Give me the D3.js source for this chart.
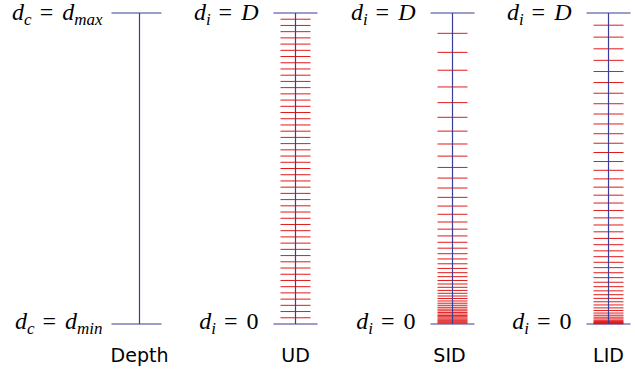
<!DOCTYPE html>
<html><head><meta charset="utf-8">
<script src="https://cdn.jsdelivr.net/npm/d3@7"></script>
<style>body{margin:0;background:#fff}</style>
</head><body>
<svg id="c" width="635" height="370"></svg>
<script>
const columns = ["Depth", "UD", "SID", "LID"];
const depthMax = 50;
const udLines = [1,2,3,4,5,6,7,8,9,10,11,12,13,14,15,16,17,18,19,20,21,22,23,24,25,26,27,28,29,30,31,32,33,34,35,36,37,38,39,40,41,42,43,44,45,46,47,48,49];
const sidLines = [0.14,0.28,0.44,0.60,0.78,0.97,1.17,1.38,1.61,1.86,2.12,2.39,2.69,3.01,3.34,3.70,4.09,4.50,4.94,5.40,5.90,6.43,7.00,7.61,8.25,8.94,9.68,10.46,11.30,12.19,13.14,14.16,15.25,16.40,17.64,18.96,20.36,21.86,23.46,25.17,26.99,28.94,31.01,33.23,35.59,38.11,40.80,43.67,46.73];
const lidLines = [0.04,0.12,0.24,0.39,0.59,0.82,1.10,1.41,1.76,2.16,2.59,3.06,3.57,4.12,4.71,5.33,6.00,6.71,7.45,8.24,9.06,9.92,10.82,11.76,12.75,13.76,14.82,15.92,17.06,18.24,19.45,20.71,22.00,23.33,24.71,26.12,27.57,29.06,30.59,32.16,33.76,35.41,37.10,38.82,40.59,42.39,44.24,46.12,48.04];
const topLabels = [["d","c","d","max"],["d","i","D",""],["d","i","D",""],["d","i","D",""]];
const bottomLabels = [["d","c","d","min"],["d","i","0",""],["d","i","0",""],["d","i","0",""]];
const linesByColumn = {Depth: [], UD: udLines, SID: sidLines, LID: lidLines};

const svg = d3.select("#c");
const x = d3.scalePoint().domain(columns).range([138.5, 608]);
const y = d3.scaleLinear().domain([0, depthMax]).range([324, 13]);
const blue = "#3b3b98", red = "#e21a1a";

columns.forEach((col, ci) => {
  const cx = Math.round(x(col)) + 0.5;
  const g = svg.append("g");
  g.selectAll("line.r").data(linesByColumn[col]).join("line")
    .attr("x1", cx - 15).attr("x2", cx + 15)
    .attr("y1", d => y(d)).attr("y2", d => y(d))
    .attr("stroke", red).attr("stroke-width", 1);
  g.append("line").attr("x1", cx).attr("x2", cx).attr("y1", y(0)).attr("y2", y(depthMax))
    .attr("stroke", blue).attr("stroke-width", 1.2);
  [0, depthMax].forEach(v => {
    g.append("line").attr("x1", cx - (ci === 0 ? 28 : 22)).attr("x2", cx + 22)
      .attr("y1", y(v)).attr("y2", y(v)).attr("stroke", blue).attr("stroke-width", 1.2);
  });
  const mk = (lab, yy) => {
    const t = g.append("text").attr("x", cx - 37).attr("y", yy)
      .attr("text-anchor", "end").attr("font-family", "Liberation Serif").attr("font-size", 24).attr("fill", "#000");
    t.append("tspan").attr("font-style", "italic").text(lab[0]);
    t.append("tspan").attr("font-style", "italic").attr("font-size", 17).attr("dy", 5).text(lab[1]);
    const isNum = /^[0-9]$/.test(lab[2]);
    t.append("tspan").attr("dy", -5).attr("dx", 8).text("=");
    t.append("tspan").attr("dx", 9).attr("font-style", isNum ? "normal" : "italic").text(lab[2]);
    if (lab[3]) t.append("tspan").attr("font-style", "italic").attr("font-size", 17).attr("dy", 5).text(lab[3]);
  };
  mk(topLabels[ci], 20);
  mk(bottomLabels[ci], 329);
  g.append("text").attr("x", cx + (col === "SID" ? -3 : 0)).attr("y", 362)
    .attr("text-anchor", "middle").attr("font-family", "DejaVu Sans").attr("font-size", 19)
    .attr("fill", "#000").text(col);
});
</script>
</body></html>
